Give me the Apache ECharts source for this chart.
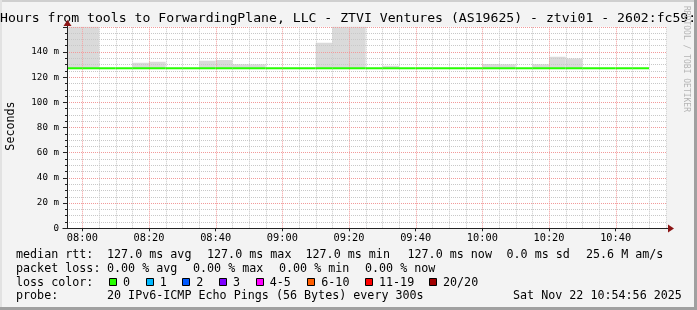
<!DOCTYPE html>
<html>
<head>
<meta charset="utf-8">
<script src="https://cdn.jsdelivr.net/npm/echarts@6/dist/echarts.min.js"></script>
<style>
  html, body { margin: 0; padding: 0; background: #f3f3f3; }
  #chart { width: 697px; height: 310px; }
</style>
</head>
<body>
<div id="chart"></div>
<script>
// ---- data (minutes relative to 08:00, values in ms) ----
const xTickMinutes = [0, 20, 40, 60, 80, 100, 120, 140, 160];
const xTickLabels = ['08:00', '08:20', '08:40', '09:00', '09:20', '09:40', '10:00', '10:20', '10:40'];
const xMinorMinutes = [5, 10, 15, 25, 30, 35, 45, 50, 55, 65, 70, 75, 85, 90, 95,
  105, 110, 115, 125, 130, 135, 145, 150, 155, 165, 170, 175];

// smoke bins: start minute of each 5-minute bin, lowest and highest ping
const smokeStart = [-5, 0, 15, 20, 35, 40, 45, 50, 70, 75, 80, 90, 120, 125, 135, 140, 145];
const smokeLow = [127, 127, 127, 127, 127, 127, 127, 127, 127, 127, 127, 127, 127, 127, 127, 127, 127];
const smokeHigh = [170, 170, 131.4, 132.2, 133, 133.6, 130.2, 130.2, 147.3, 170, 170, 129, 130.4, 130.3, 130.2, 136.2, 134.9];

// median rtt per 5-minute bin
const medianStart = [-5, 0, 5, 10, 15, 20, 25, 30, 35, 40, 45, 50, 55, 60, 65, 70, 75, 80, 85, 90, 95, 100,
  105, 110, 115, 120, 125, 130, 135, 140, 145, 150, 155, 160, 165];
const medianRtt = [127, 127, 127, 127, 127, 127, 127, 127, 127, 127, 127, 127, 127, 127, 127, 127, 127, 127,
  127, 127, 127, 127, 127, 127, 127, 127, 127, 127, 127, 127, 127, 127, 127, 127, 127];

const binMinutes = 5;

// legend
const lossLabels = ['0', '1', '2', '3', '4-5', '6-10', '11-19', '20/20'];
const lossColors = ['#26ff00', '#00b8ff', '#0059ff', '#7e00ff', '#ff00ff', '#ff5e00', '#ff0000', '#a10000'];
const rttStats = ['127.0 ms avg', '127.0 ms max', '127.0 ms min', '127.0 ms now', '0.0 ms sd', '25.6 M am/s'];
const lossStats = ['0.00 % avg', '0.00 % max', '0.00 % min', '0.00 % now'];

// ---- layout ----
const MONO = "'DejaVu Sans Mono', monospace";
const G = { left: 67, top: 26.8, width: 600, height: 201.5 };
const legendFont = '11.7px ' + MONO;
const rttX = [107, 207, 305.5, 407.5, 506.5, 586];
const lossX = [107, 193, 279, 365];
const boxX = [109, 145.7, 182.3, 219, 255.7, 307.3, 365, 429];
const rowY = [255, 268.5, 282.5, 296];
const MAJOR_GRID = '#f29a9a', MINOR_GRID = '#c8c8c8';

const chart = echarts.init(document.getElementById('chart'), null, { renderer: 'canvas' });

const graphics = [];
// frame
graphics.push({ type: 'rect', shape: { x: 0, y: 0, width: 697, height: 2 }, style: { fill: '#cfcfcf' }, silent: true });
graphics.push({ type: 'rect', shape: { x: 0, y: 0, width: 2, height: 310 }, style: { fill: '#e2e2e2' }, silent: true });
graphics.push({ type: 'rect', shape: { x: 0, y: 307, width: 697, height: 3 }, style: { fill: '#a0a0a0' }, silent: true });
graphics.push({ type: 'rect', shape: { x: 694, y: 0, width: 3, height: 310 }, style: { fill: '#a0a0a0' }, silent: true });
// title
graphics.push({ type: 'text', x: 0, y: 19, style: {
  text: 'Hours from tools to ForwardingPlane, LLC - ZTVI Ventures (AS19625) - ztvi01 - 2602:fc59:',
  font: '13.15px ' + MONO, fill: '#000', textAlign: 'left', textVerticalAlign: 'middle' }, silent: true });
// watermark
graphics.push({ type: 'text', x: 686.5, y: 59, rotation: -Math.PI / 2, style: {
  text: 'RRDTOOL / TOBI OETIKER', font: '8px ' + MONO, fill: '#b4b4b4', textAlign: 'center', textVerticalAlign: 'middle' }, silent: true });
// y axis name
graphics.push({ type: 'text', x: 10.5, y: 126, rotation: Math.PI / 2, style: {
  text: 'Seconds', font: '11.7px ' + MONO, fill: '#000', textAlign: 'center', textVerticalAlign: 'middle' }, silent: true });
// axis lines & arrows
graphics.push({ type: 'line', shape: { x1: 62.5, y1: 228.5, x2: 668, y2: 228.5 }, style: { stroke: '#222', lineWidth: 1 }, silent: true, z: 8 });
graphics.push({ type: 'line', shape: { x1: 67.5, y1: 228.5, x2: 67.5, y2: 24 }, style: { stroke: '#222', lineWidth: 1 }, silent: true, z: 8 });
graphics.push({ type: 'polygon', shape: { points: [[63.5, 26], [71.5, 26], [67.5, 20]] }, style: { fill: '#8b1515' }, silent: true, z: 9 });
graphics.push({ type: 'polygon', shape: { points: [[668, 224.5], [668, 232.5], [674, 228.5]] }, style: { fill: '#8b1515' }, silent: true, z: 9 });

// legend rows
const textItem = (txt, x, y) => ({ type: 'text', x: x, y: y, style: { text: txt, font: legendFont, fill: '#000', textAlign: 'left', textVerticalAlign: 'middle' }, silent: true });
graphics.push(textItem('median rtt:', 16, rowY[0]));
rttStats.forEach((s, i) => graphics.push(textItem(s, rttX[i], rowY[0])));
graphics.push(textItem('packet loss:', 16, rowY[1]));
lossStats.forEach((s, i) => graphics.push(textItem(s, lossX[i], rowY[1])));
graphics.push(textItem('loss color:', 16, rowY[2]));
lossLabels.forEach((s, i) => {
  graphics.push({ type: 'rect', shape: { x: Math.round(boxX[i]) + 0.5, y: 278.5, width: 7, height: 7 },
    style: { fill: lossColors[i], stroke: '#000', lineWidth: 1 }, silent: true });
  graphics.push(textItem(s, boxX[i] + 14, rowY[2]));
});
graphics.push(textItem('probe:', 16, rowY[3]));
graphics.push(textItem('20 IPv6-ICMP Echo Pings (56 Bytes) every 300s', 107, rowY[3]));
graphics.push(textItem('Sat Nov 22 10:54:56 2025', 513, rowY[3]));

const xMin = -4.6, xMax = 175.4, yMin = 0, yMax = 160;

const gridLineRenderer = (color) => (params, api) => {
  const t = api.value(0);
  const a = api.coord([t, yMin]);
  const b = api.coord([t, yMax]);
  const x = Math.round(a[0]) + 0.5;
  return { type: 'line', shape: { x1: x, y1: a[1], x2: x, y2: b[1] },
    style: { stroke: color, lineWidth: 1, lineDash: [1, 1] } };
};

const option = {
  backgroundColor: '#f3f3f3',
  animation: false,
  grid: { left: G.left, top: G.top, width: G.width, height: G.height, show: true, backgroundColor: '#ffffff', borderWidth: 0 },
  xAxis: {
    type: 'value', min: xMin, max: xMax, position: 'bottom',
    axisLine: { show: false, onZero: false },
    axisTick: { show: true, customValues: xTickMinutes, length: 3, lineStyle: { color: '#222' } },
    axisLabel: { customValues: xTickMinutes, margin: 5, color: '#000', fontFamily: MONO, fontSize: 10.3,
      formatter: v => { const i = xTickMinutes.indexOf(v); return i >= 0 ? xTickLabels[i] : ''; } },
    splitLine: { show: false }
  },
  yAxis: {
    type: 'value', min: yMin, max: yMax, interval: 20, z: 3, position: 'left',
    axisLine: { show: false, onZero: false },
    axisTick: { show: true, length: 4, lineStyle: { color: '#222' } },
    minorTick: { show: true, splitNumber: 4, length: 2, lineStyle: { color: '#222' } },
    axisLabel: { margin: 8, color: '#000', fontFamily: MONO, fontSize: 9.2, showMaxLabel: false,
      formatter: v => (v === 0 ? '0' : v + ' m') },
    splitLine: { show: true, lineStyle: { color: MAJOR_GRID, width: 1, type: [1, 1] } },
    minorSplitLine: { show: true, lineStyle: { color: MINOR_GRID, width: 1, type: [1, 1] } }
  },
  series: [
    {
      type: 'custom', name: 'smoke', clip: true, z: 1,
      data: smokeStart.map((t, i) => [t, smokeLow[i], smokeHigh[i]]),
      renderItem: (params, api) => {
        const t = api.value(0);
        const p0 = api.coord([t, api.value(1)]);
        const p1 = api.coord([t + binMinutes, api.value(2)]);
        return { type: 'rect', shape: { x: p0[0], y: p1[1], width: p1[0] - p0[0], height: p0[1] - p1[1] },
          style: { fill: '#dadada' } };
      }
    },
    {
      type: 'custom', name: 'minor time grid', clip: true, z: 3, silent: true,
      data: xMinorMinutes.map(t => [t]),
      renderItem: gridLineRenderer(MINOR_GRID)
    },
    {
      type: 'custom', name: 'major time grid', clip: true, z: 4, silent: true,
      data: xTickMinutes.map(t => [t]),
      renderItem: gridLineRenderer(MAJOR_GRID)
    },
    {
      type: 'custom', name: 'median rtt', clip: true, z: 6,
      data: medianStart.map((t, i) => [t, medianRtt[i]]),
      renderItem: (params, api) => {
        const t = api.value(0);
        const p0 = api.coord([t, api.value(1)]);
        const p1 = api.coord([t + binMinutes, api.value(1)]);
        return { type: 'line', shape: { x1: p0[0], y1: p0[1], x2: p1[0], y2: p1[1] },
          style: { stroke: lossColors[0], lineWidth: 2 } };
      }
    }
  ],
  graphic: graphics
};
chart.setOption(option);
</script>
</body>
</html>
